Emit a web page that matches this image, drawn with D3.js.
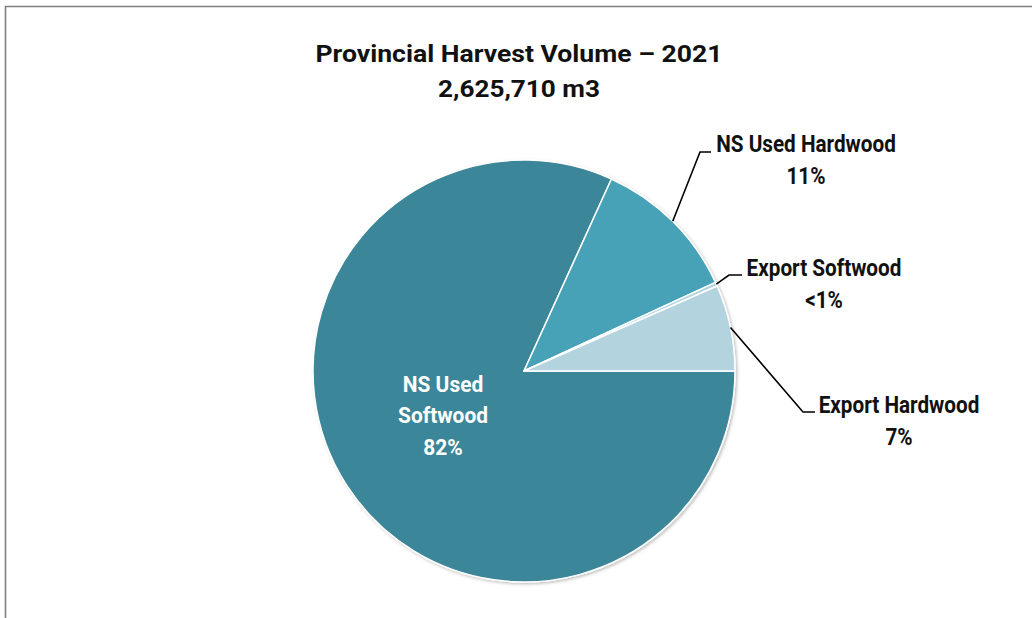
<!DOCTYPE html>
<html>
<head>
<meta charset="utf-8">
<script src="https://cdn.jsdelivr.net/npm/d3@7"></script>
<style>
  html, body { margin: 0; padding: 0; background: #fff; }
  svg { display: block; font-family: Roboto, "Liberation Sans", sans-serif; }
</style>
</head>
<body>
<svg id="chart" width="1032" height="618"></svg>
<script>
// Harvest shares (% of total provincial volume)
const categories = ["NS Used Softwood", "NS Used Hardwood", "Export Softwood", "Export Hardwood"];
const shares = [81.8, 11.3, 0.3, 6.6];
const shareLabels = ["82%", "11%", "<1%", "7%"];
const colors = ["#3b8698", "#47a2b8", "#b3d4df", "#b3d4df"];
const titleLines = ["Provincial Harvest Volume \u2013 2021", "2,625,710 m3"];

const svg = d3.select("#chart");
const W = 1032, H = 618;
const cx = 524, cy = 371, R = 211;

// frame
svg.append("path")
  .attr("d", `M5.5,${H} V6.5 H${W}`)
  .attr("fill", "none")
  .attr("stroke", "#7f7f7f")
  .attr("stroke-width", 1.6);

// title
const titleWidths = [407, 162];
const title = svg.append("text")
  .attr("text-anchor", "middle")
  .attr("font-weight", 700)
  .attr("font-size", 24)
  .attr("fill", "#111");
title.selectAll("tspan").data(titleLines).join("tspan")
  .attr("x", 519)
  .attr("y", (d, i) => 62 + i * 35)
  .attr("textLength", (d, i) => titleWidths[i])
  .attr("lengthAdjust", "spacingAndGlyphs")
  .text(d => d);

// subtle edge shadow
const defs = svg.append("defs");
const f = defs.append("filter").attr("id", "shadow")
  .attr("x", "-10%").attr("y", "-10%").attr("width", "120%").attr("height", "120%");
f.append("feDropShadow").attr("dx", 1.5).attr("dy", 1.5)
  .attr("stdDeviation", 1.5).attr("flood-color", "#000").attr("flood-opacity", 0.25);

const pie = d3.pie().sort(null).value(d => d)
  .startAngle(Math.PI / 2).endAngle(Math.PI / 2 + 2 * Math.PI);
const arcs = pie(shares);
const arc = d3.arc().innerRadius(0).outerRadius(R);

const g = svg.append("g").attr("transform", `translate(${cx},${cy})`);
g.append("g").attr("filter", "url(#shadow)")
  .selectAll("path").data(arcs).join("path")
  .attr("d", arc)
  .attr("fill", (d, i) => colors[i])
  .attr("stroke", "#fff")
  .attr("stroke-width", 1.5)
  .attr("stroke-linejoin", "round");

// label placement: elbow / end of leader line and text anchor (relative to pie centre)
const labelLayout = [
  null,
  { elbow: [176, -219], end: [187, -219], text: [282, -219] },
  { elbow: [205, -96], end: [218, -96], text: [300, -95] },
  { elbow: [279, 41], end: [291, 41], text: [375, 42] }
];
const condense = 0.9;

arcs.forEach((a, i) => {
  const L = labelLayout[i];
  if (!L) return;
  const mid = (a.startAngle + a.endAngle) / 2;
  const sx = R * Math.sin(mid), sy = -R * Math.cos(mid);
  g.append("path")
    .attr("d", d3.line()([[sx, sy], L.elbow, L.end]))
    .attr("fill", "none")
    .attr("stroke", "#000")
    .attr("stroke-width", 1.6);
  const t = g.append("text")
    .attr("transform", `translate(${L.text[0]},${L.text[1]}) scale(${condense},1)`)
    .attr("text-anchor", "middle")
    .attr("font-weight", 700)
    .attr("font-size", 23)
    .attr("fill", "#111");
  t.append("tspan").attr("x", 0).attr("y", 0).text(categories[i]);
  t.append("tspan").attr("x", 0).attr("y", 32).text(shareLabels[i]);
});

// inside label for the largest slice
const inner = g.append("text")
  .attr("transform", `translate(${-81},${21}) scale(0.93,1)`)
  .attr("text-anchor", "middle")
  .attr("font-weight", 700)
  .attr("font-size", 22.5)
  .attr("fill", "#fff");
["NS Used", "Softwood", shareLabels[0]].forEach((s, i) => {
  inner.append("tspan").attr("x", 0).attr("y", i * 31.5).text(s);
});
</script>
</body>
</html>
